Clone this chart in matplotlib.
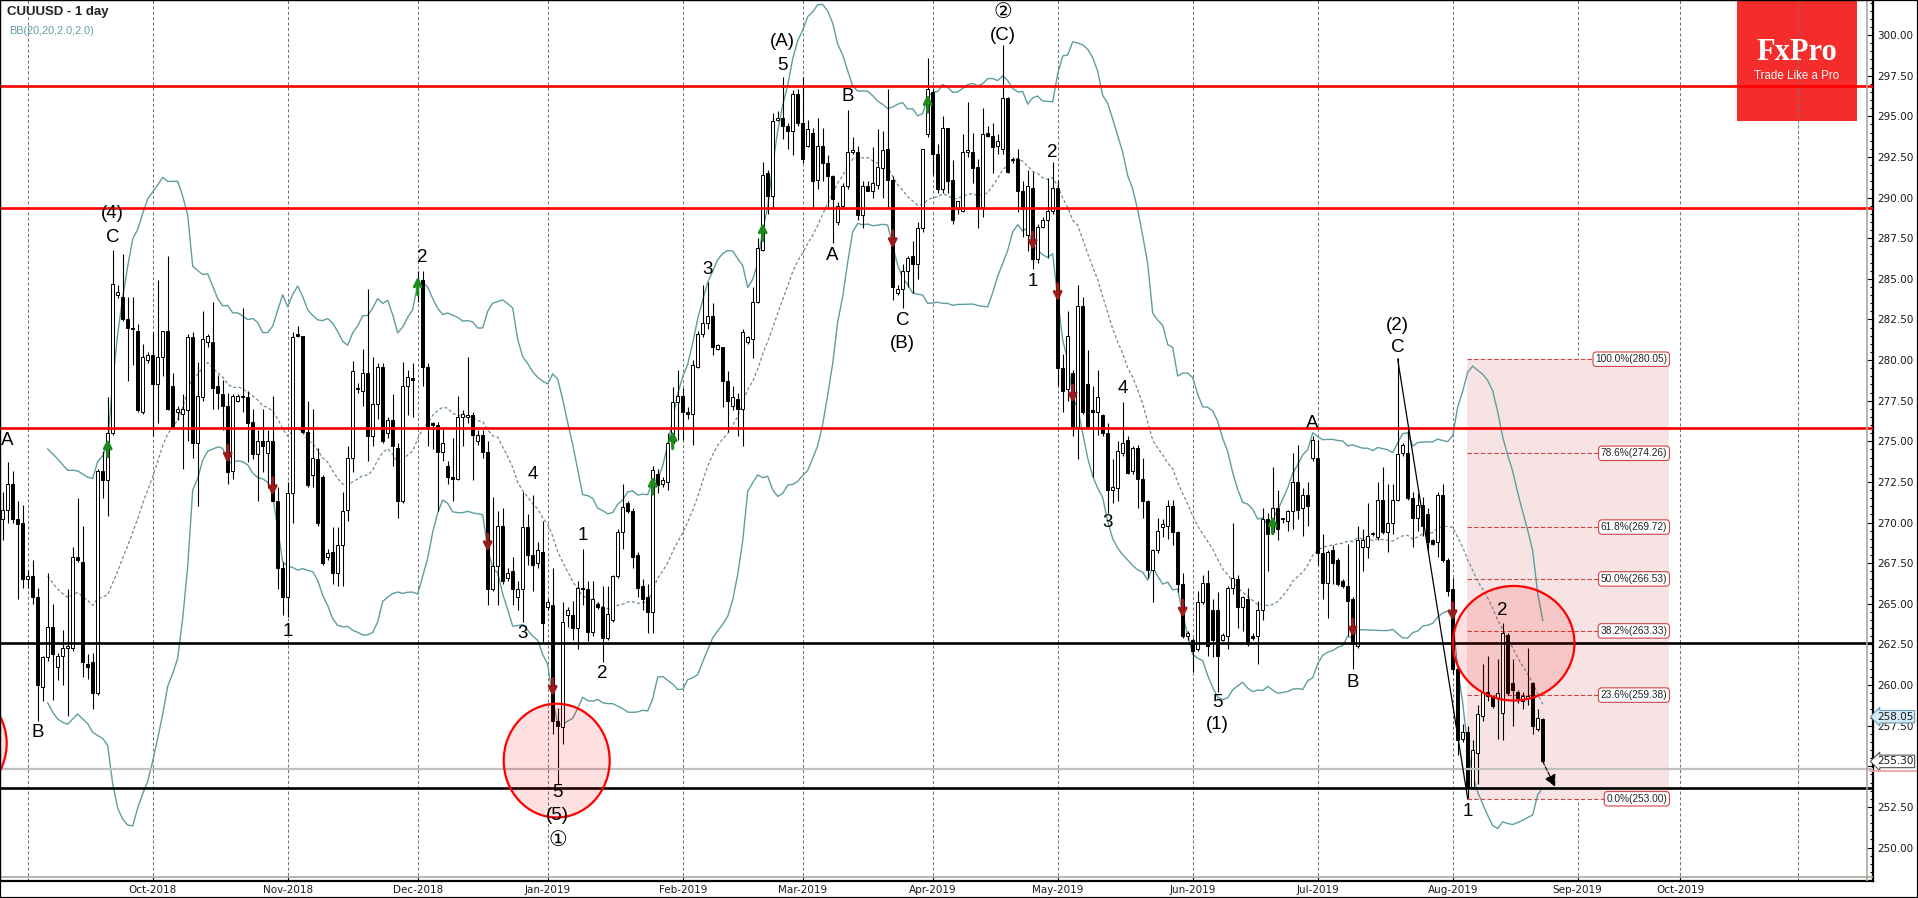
import numpy as np
import pandas as pd
import matplotlib
matplotlib.use("Agg")
import matplotlib.pyplot as plt
from matplotlib.patches import Rectangle, Ellipse
from matplotlib.lines import Line2D

plt.rcParams['font.family'] = ['DejaVu Sans']

# daily candles, one per bar (Sunday bars included)
opens = [
    270.2, 270.75, 272.4, 270.2, 270.0, 266.5, 266.7, 265.4, 259.9, 261.7,
    263.6, 261.1, 261.8, 262.3, 262.3, 267.9, 267.6, 261.3, 261.4, 259.5,
    273.2, 272.6, 275.5, 284.0, 283.9, 282.5, 282.0, 281.8, 276.8, 280.0,
    280.3, 278.5, 280.2, 281.8, 278.4, 276.8, 276.7, 276.9, 281.4, 274.9,
    277.7, 281.1, 281.1, 278.4, 277.9, 277.2, 273.2, 277.5, 277.8, 277.7,
    276.2, 274.2, 275.0, 274.3, 275.0, 271.3, 267.2, 265.4, 271.8, 281.6,
    281.5, 275.6, 272.9, 273.9, 272.8, 267.9, 268.2, 266.9, 268.6, 270.8,
    274.0, 278.3, 278.1, 279.2, 275.3, 277.3, 279.6, 275.5, 276.3, 274.6,
    271.3, 278.4, 278.9, 284.9, 284.9, 279.6, 276.1, 276.0, 274.35, 273.5,
    272.8, 272.7, 276.5, 276.5, 276.6, 275.0, 275.4, 274.35, 265.9, 267.3,
    269.8, 266.6, 267.0, 265.4, 265.9, 269.7, 268.0, 267.5, 268.2, 264.8,
    264.9, 257.8, 257.4, 264.3, 264.3, 263.5, 266.0, 265.9, 263.25, 265.0,
    264.8, 262.9, 264.0, 266.7, 269.4, 271.2, 270.7, 268.0, 266.1, 265.4,
    264.5, 273.0, 272.4, 272.5, 274.9, 277.4, 277.8, 276.8, 276.7, 279.6,
    281.6, 282.3, 282.7, 280.7, 280.8, 278.7, 277.2, 277.6, 277.0, 281.1,
    281.3, 283.6, 286.8, 291.5, 290.1, 294.8, 294.9, 294.4, 294.1, 296.4,
    294.6, 293.2, 294.0, 291.1, 293.2, 292.1, 291.3, 288.5, 289.5, 290.7,
    292.8, 292.8, 288.9, 290.7, 290.4, 290.8, 291.8, 293.0, 291.1, 284.1,
    284.4, 285.5, 286.4, 285.9, 288.1, 293.9, 296.5, 292.7, 290.5, 294.3,
    291.1, 289.3, 289.2, 292.8, 292.8, 291.9, 289.4, 294.0, 293.8, 293.2,
    293.0, 296.1, 292.3, 292.4, 290.4, 287.7, 290.6, 286.2, 288.2, 288.6,
    289.2, 290.6, 279.5, 278.2, 279.2, 275.9, 283.3, 278.5, 276.9, 276.8,
    276.6, 275.5, 272.0, 272.1, 274.3, 275.1, 273.2, 274.6, 272.7, 271.3,
    267.1, 268.3, 269.7, 269.8, 271.0, 269.4, 266.2, 263.0, 262.8, 262.2,
    265.1, 266.3, 264.6, 264.6, 262.8, 263.0, 266.0, 266.5, 264.8, 265.3,
    263.0, 263.0, 264.6, 270.2, 269.4, 270.9, 270.2, 270.1, 270.7, 272.5,
    270.9, 271.7, 274.0, 274.0, 268.1, 266.3, 268.3, 267.7, 266.4, 266.1,
    265.3, 262.4, 268.5, 268.5, 269.3, 269.1, 271.4, 269.4, 270.0, 271.4,
    274.3, 274.3, 271.5, 270.3, 271.1, 270.5, 268.9, 268.8, 271.7, 267.7,
    265.9, 261.0, 256.7, 257.1, 253.7, 255.8, 258.1, 259.6, 259.3, 259.2,
    258.3, 263.1, 260.1, 259.6, 259.0, 259.2, 260.1, 257.3, 257.9,
]
highs = [
    271.9, 273.7, 273.2, 271.3, 271.1, 267.1, 267.7, 266.0, 261.8, 266.9,
    265.0, 262.0, 263.4, 265.9, 268.5, 271.5, 269.8, 261.9, 262.0, 273.3,
    274.4, 277.7, 286.8, 284.6, 286.5, 283.9, 283.9, 282.2, 281.0, 280.5,
    281.7, 284.9, 281.8, 286.4, 279.2, 277.2, 277.9, 281.6, 281.7, 279.9,
    283.0, 281.6, 283.6, 279.1, 278.8, 278.0, 277.9, 277.9, 283.2, 278.1,
    277.0, 275.7, 277.0, 275.7, 277.8, 272.2, 267.6, 272.5, 281.7, 282.1,
    281.5, 277.5, 277.0, 274.6, 272.9, 268.4, 269.7, 269.7, 271.9, 274.7,
    279.95, 278.6, 280.7, 284.35, 280.2, 279.8, 279.8, 276.5, 277.9, 274.9,
    279.9, 279.4, 279.8, 285.45, 285.45, 279.8, 276.2, 276.2, 275.8, 273.8,
    275.2, 277.8, 276.9, 280.2, 276.8, 275.7, 275.7, 275.0, 271.6, 270.7,
    270.9, 267.2, 267.9, 266.4, 271.9, 270.5, 271.7, 268.8, 270.1, 265.3,
    267.2, 258.6, 265.1, 264.8, 265.2, 266.4, 268.4, 266.4, 266.4, 265.1,
    266.1, 266.1, 266.8, 269.6, 272.4, 271.3, 270.9, 268.2, 266.5, 266.2,
    273.5, 273.3, 272.8, 275.5, 278.36, 279.4, 278.3, 277.1, 280.0, 281.8,
    284.6, 284.8, 283.5, 281.0, 280.8, 279.3, 278.4, 278.0, 281.9, 281.5,
    284.5, 287.5, 292.2, 291.7, 295.2, 295.3, 297.4, 294.6, 296.6, 296.7,
    297.4, 294.8, 294.3, 294.9, 294.3, 292.6, 291.4, 289.7, 290.9, 295.4,
    293.7, 293.2, 291.0, 291.0, 293.1, 294.2, 294.1, 296.7, 291.3, 284.6,
    285.9, 286.4, 287.3, 288.5, 293.0, 298.6, 296.7, 293.3, 295.0, 294.3,
    292.3, 289.8, 293.9, 295.9, 294.0, 292.4, 295.5, 294.4, 294.6, 293.9,
    299.4, 296.2, 292.5, 293.0, 291.0, 291.7, 291.6, 288.4, 288.8, 291.2,
    292.2, 291.1, 280.4, 283.0, 279.4, 284.6, 283.9, 280.6, 278.4, 279.4,
    276.7, 276.1, 273.9, 275.0, 277.4, 275.3, 274.7, 274.8, 274.0, 271.4,
    268.4, 270.3, 270.2, 271.4, 271.4, 269.5, 266.9, 263.3, 262.9, 265.8,
    266.8, 267.1, 265.3, 265.7, 263.2, 266.1, 270.0, 266.8, 265.5, 266.0,
    263.2, 265.2, 270.9, 270.6, 273.4, 272.0, 270.3, 270.8, 274.3, 274.8,
    272.1, 272.5, 275.3, 275.1, 269.3, 268.3, 268.6, 267.8, 266.5, 268.7,
    265.4, 269.8, 269.6, 271.2, 269.4, 272.5, 273.4, 272.4, 272.4, 280.1,
    274.9, 275.9, 271.9, 271.8, 271.6, 270.9, 269.0, 271.9, 272.4, 267.8,
    266.6, 261.1, 257.6, 257.5, 256.6, 258.8, 261.3, 261.8, 259.4, 261.6,
    263.8, 263.2, 261.6, 259.7, 259.6, 262.3, 260.2, 258.5, 258.0,
]
lows = [
    268.9, 270.0, 270.0, 265.3, 266.0, 266.0, 265.0, 257.8, 259.0, 261.5,
    259.1, 260.3, 260.0, 258.1, 262.1, 267.6, 260.5, 260.4, 258.5, 259.4,
    271.5, 270.4, 275.4, 283.8, 282.4, 278.7, 279.7, 276.8, 276.7, 279.8,
    275.3, 276.1, 279.0, 276.9, 275.9, 276.3, 273.3, 275.0, 274.0, 271.0,
    277.5, 280.8, 277.0, 277.0, 275.7, 272.4, 272.7, 277.4, 276.8, 273.7,
    273.9, 271.3, 273.1, 272.1, 271.3, 265.9, 264.3, 264.2, 270.0, 281.4,
    275.5, 272.2, 272.2, 269.8, 267.4, 267.7, 266.2, 266.1, 266.1, 270.1,
    273.1, 278.0, 277.2, 273.8, 274.7, 276.4, 274.9, 275.2, 273.5, 270.3,
    271.2, 276.6, 276.5, 283.6, 278.4, 274.7, 274.5, 270.7, 273.8, 272.4,
    271.3, 272.6, 274.7, 276.1, 272.6, 274.8, 274.0, 264.9, 265.8, 264.9,
    266.2, 266.4, 264.9, 264.6, 263.9, 267.4, 265.8, 267.2, 262.6, 264.6,
    257.0, 253.9, 256.4, 263.6, 262.8, 262.2, 264.9, 262.7, 263.0, 264.7,
    261.4, 262.8, 263.9, 266.6, 268.4, 270.6, 267.2, 265.4, 264.6, 263.2,
    263.2, 271.8, 272.2, 272.0, 274.7, 275.1, 275.1, 276.4, 274.8, 279.5,
    281.4, 281.9, 280.3, 280.6, 277.1, 275.6, 276.9, 275.3, 274.7, 281.0,
    280.1, 283.5, 286.7, 289.0, 289.4, 294.7, 293.6, 293.0, 292.6, 294.4,
    292.1, 293.1, 289.4, 290.5, 291.0, 289.4, 287.2, 288.3, 289.3, 290.5,
    292.7, 288.6, 288.1, 290.4, 290.0, 290.5, 290.0, 289.4, 283.7, 284.0,
    283.2, 284.5, 284.1, 285.0, 287.9, 293.7, 291.4, 290.3, 290.3, 290.3,
    288.4, 289.0, 289.1, 292.5, 290.9, 288.1, 288.8, 293.7, 291.5, 292.7,
    292.7, 291.5, 292.1, 289.1, 287.6, 286.7, 285.6, 286.0, 288.1, 286.3,
    289.0, 278.4, 276.8, 277.5, 275.3, 273.9, 276.7, 275.9, 272.8, 275.4,
    275.3, 270.6, 271.2, 271.3, 274.1, 273.0, 273.0, 270.9, 270.3, 266.6,
    265.1, 268.1, 269.1, 269.0, 268.6, 265.7, 262.9, 262.8, 260.8, 262.1,
    265.0, 261.8, 261.7, 259.6, 262.7, 262.2, 265.6, 263.5, 263.3, 262.4,
    262.8, 261.3, 264.0, 267.0, 269.3, 268.9, 270.0, 269.5, 269.6, 270.2,
    269.2, 269.8, 273.8, 267.4, 265.3, 264.1, 266.2, 266.1, 266.0, 263.0,
    261.0, 262.3, 267.0, 267.8, 269.2, 268.9, 269.3, 268.2, 269.3, 271.3,
    274.1, 271.4, 268.5, 269.5, 269.2, 268.2, 268.6, 267.9, 267.6, 265.5,
    260.7, 255.7, 256.5, 253.05, 253.6, 253.9, 257.8, 259.0, 258.6, 256.7,
    256.6, 259.4, 257.5, 258.9, 258.5, 258.8, 257.0, 257.2, 255.2,
]
closes = [
    270.75, 272.4, 270.2, 269.9, 266.5, 266.7, 265.4, 260.0, 261.7, 263.6,
    261.9, 261.8, 262.3, 262.4, 267.9, 267.7, 261.4, 261.1, 259.5, 273.2,
    272.6, 275.5, 284.7, 284.2, 282.5, 281.95, 281.9, 276.9, 280.2, 280.3,
    278.5, 280.2, 281.8, 277.0, 275.9, 277.0, 277.0, 281.4, 274.9, 277.8,
    281.3, 281.5, 278.3, 278.0, 277.2, 273.1, 277.8, 277.8, 277.7, 276.1,
    274.2, 275.0, 274.7, 275.0, 271.3, 267.2, 265.4, 271.8, 281.4, 281.5,
    275.6, 272.3, 274.0, 270.0, 267.5, 268.1, 266.9, 268.6, 270.7, 274.0,
    279.3, 278.2, 279.2, 275.3, 277.3, 279.6, 275.0, 276.3, 274.7, 271.3,
    278.4, 278.95, 278.8, 284.8, 279.6, 275.9, 276.0, 274.35, 274.9, 272.8,
    272.7, 276.5, 276.7, 276.6, 275.4, 275.4, 274.35, 265.9, 267.3, 269.8,
    266.4, 266.9, 265.9, 265.9, 269.7, 268.0, 267.4, 268.3, 263.8, 265.1,
    257.8, 257.5, 263.9, 264.6, 263.5, 266.0, 265.9, 263.25, 265.3, 264.8,
    262.9, 264.35, 266.7, 269.4, 270.95, 270.7, 267.9, 266.0, 265.3, 264.5,
    273.25, 272.3, 272.6, 274.9, 277.4, 277.8, 276.8, 276.7, 279.7, 281.6,
    282.3, 282.7, 280.8, 280.9, 278.7, 277.5, 277.7, 277.0, 281.7, 281.4,
    283.6, 286.9, 291.4, 290.1, 294.7, 294.9, 294.4, 294.1, 296.4, 294.6,
    292.4, 294.2, 291.0, 293.2, 292.1, 291.3, 289.9, 289.5, 290.7, 292.8,
    292.9, 288.9, 290.7, 290.4, 290.9, 291.9, 292.9, 291.1, 284.5, 284.4,
    285.5, 286.3, 285.9, 288.1, 293.0, 296.7, 292.7, 290.5, 294.3, 291.0,
    288.6, 289.8, 292.8, 292.9, 291.8, 289.4, 293.9, 293.8, 293.1, 293.5,
    296.1, 291.6, 292.4, 290.4, 289.3, 290.7, 286.2, 288.2, 288.6, 289.2,
    290.6, 279.5, 278.1, 281.5, 275.9, 283.3, 276.8, 275.9, 276.8, 277.7,
    275.5, 272.0, 272.2, 274.4, 274.9, 273.05, 274.6, 272.7, 271.3, 267.1,
    268.3, 269.5, 269.9, 271.0, 269.4, 266.2, 263.0, 263.2, 262.1, 265.1,
    266.3, 262.4, 262.8, 261.8, 263.1, 266.0, 266.6, 264.8, 265.4, 262.5,
    262.9, 264.6, 270.2, 269.3, 270.9, 269.6, 270.2, 270.7, 272.5, 270.8,
    271.7, 271.0, 275.1, 268.1, 266.3, 268.2, 267.5, 266.2, 266.1, 265.2,
    262.5, 268.9, 268.9, 269.2, 269.3, 271.4, 269.4, 270.0, 271.4, 274.2,
    274.75, 271.5, 270.3, 271.1, 269.8, 268.8, 268.7, 271.7, 267.7, 265.8,
    261.0, 256.6, 257.1, 253.7, 256.0, 258.2, 259.6, 259.3, 258.7, 259.5,
    263.2, 259.5, 259.7, 259.2, 259.3, 259.3, 257.5, 258.0, 255.3,
]

month_pos = [30, 57, 83, 109, 136, 160, 186, 211, 238, 263, 290, 315, 335.5]
month_labels = ['Oct-2018', 'Nov-2018', 'Dec-2018', 'Jan-2019', 'Feb-2019', 'Mar-2019',
                'Apr-2019', 'May-2019', 'Jun-2019', 'Jul-2019', 'Aug-2019', 'Sep-2019', 'Oct-2019']
grid_pos = [5] + month_pos + [359]

red_levels = [296.84, 289.33, 275.8]
black_levels = [262.57, 253.64]
grey_level = 254.81

fib_names = ['100.0', '78.6', '61.8', '50.0', '38.2', '23.6', '0.0']
fib_values = [280.05, 274.26, 269.72, 266.53, 263.33, 259.38, 253.00]

wave_text = ['A', '(4)', 'C', 'B', '1', '2', '4', '3', '5', '(5)', '\u2460', '1', '2',
             '3', '(A)', '5', 'A', 'B', 'C', '(B)', '\u2461', '(C)', '1', '2', '3', '4',
             '5', '(1)', 'A', 'B', '(2)', 'C', '1', '2']
wave_bar = [0.9, 22, 22, 7, 57, 84, 106, 104, 111, 111, 111, 116, 120,
            141, 156, 156, 166, 169, 180, 180, 200, 200, 206, 210, 221, 224,
            243, 243, 262, 270, 279, 279, 293, 300]
wave_price = [275.03, 289.0, 287.56, 257.1, 263.27, 286.33, 272.97, 263.15, 253.38, 252.0, 250.46, 269.19, 260.73,
              285.54, 299.59, 298.15, 286.46, 296.2, 282.46, 281.03, 301.4, 300.0, 284.85, 292.76, 269.98, 278.25,
              258.94, 257.6, 276.1, 260.13, 282.1, 280.8, 252.2, 264.6]

up_bar = [21, 83, 130, 134, 152, 185, 254]
up_price = [274.6, 284.57, 272.3, 275.1, 287.9, 295.8, 269.86]
down_bar = [45, 54, 97, 110, 178, 206, 211, 214, 236, 270, 290]
down_price = [274.2, 272.2, 268.75, 259.85, 287.4, 287.3, 284.15, 277.9, 264.67, 263.5, 264.5]

W, H = 1918, 898
fig = plt.figure(figsize=(W / 100, H / 100), dpi=100)
ax = fig.add_axes([0, 17 / H, 1873 / W, 881 / H])
ax.set_xlim(-0.54, 374.06)
ax.set_ylim(247.94, 302.154)
ax.set_facecolor('white')

x = np.arange(len(closes))
o = np.array(opens)
h = np.array(highs)
l = np.array(lows)
c = np.array(closes)

# month grid
for gx in grid_pos:
    ax.axvline(gx, color='#777777', lw=0.75, dashes=(3, 2.2), zorder=1)

# logo
ax.add_patch(Rectangle((1736.7 / W, 1 - 120.7 / H), 120 / W, 120.7 / H, transform=fig.transFigure,
                       fc='#F42C2C', ec='none', zorder=0.5, clip_on=False))
fig.text(1796.7 / W, 1 - 52 / H, 'FxPro', color='white', fontsize=22, fontweight='bold',
         family='Liberation Serif', ha='center', va='center', zorder=0.6)
fig.text(1796.7 / W, 1 - 76 / H, 'Trade Like a Pro', color='white', fontsize=8.3,
         family='Liberation Sans', ha='center', va='center', zorder=0.6)

# fibonacci box
ax.add_patch(Rectangle((292.8, fib_values[-1]), 333.3 - 292.8, fib_values[0] - fib_values[-1],
                       fc='#F7E3E3', ec='none', zorder=1.2))
for name, val in zip(fib_names, fib_values):
    ax.plot([292.8, 333.0], [val, val], color='#C84646', lw=0.8, dashes=(4, 2), zorder=1.3)
    ax.text(332.9, val, f'{name}%({val:.2f})', ha='right', va='center', fontsize=7.3,
            family='Liberation Sans', color='#222222', zorder=8,
            bbox=dict(boxstyle='round,pad=0.22,rounding_size=0.35', fc='white', ec='#D04545', lw=0.8))

# bollinger bands
cs = pd.Series(closes)
mid = cs.rolling(20, min_periods=10).mean()
sd = cs.rolling(20, min_periods=10).std(ddof=0)
ax.plot(x, mid + 2 * sd, color='#5F9EA0', lw=1.0, zorder=2)
ax.plot(x, mid - 2 * sd, color='#5F9EA0', lw=1.0, zorder=2)
ax.plot(x, mid, color='#6E8E90', lw=0.9, dashes=(2.5, 1.8), zorder=2)

# candles
ax.vlines(x, l, h, color='black', lw=0.8, zorder=3)
up = c >= o
lo = np.minimum(o, c)
ht = np.maximum(np.abs(c - o), 0.07)
ax.bar(x[up], ht[up], bottom=lo[up], width=0.55, color='white', edgecolor='black', lw=0.7, zorder=4)
ax.bar(x[~up], ht[~up], bottom=lo[~up], width=0.55, color='black', edgecolor='black', lw=0.7, zorder=4)

# horizontal levels
for lv in red_levels:
    ax.axhline(lv, color='#FF0000', lw=1.9, zorder=5)
for lv in black_levels:
    ax.axhline(lv, color='black', lw=1.9, zorder=5)
ax.axhline(grey_level, color='#C0C0C0', lw=1.6, zorder=5)

# wave C -> 1 line and projection arrow
ax.plot([279, 293], [280.05, 253.0], color='black', lw=0.9, zorder=5)
ax.annotate('', xy=(310.5, 253.74), xytext=(308, 255.3),
            arrowprops=dict(arrowstyle='-|>', color='black', lw=0.8, ls='--', mutation_scale=18,
                            shrinkA=0, shrinkB=0), zorder=6)

# signal arrows
for bx, by in zip(up_bar, up_price):
    ax.annotate('', xy=(bx, by + 0.55), xytext=(bx, by - 0.55),
                arrowprops=dict(arrowstyle='->', color='#1E8B1E', lw=2.2, mutation_scale=12,
                                shrinkA=0, shrinkB=0), zorder=6)
for bx, by in zip(down_bar, down_price):
    ax.annotate('', xy=(bx, by - 0.55), xytext=(bx, by + 0.55),
                arrowprops=dict(arrowstyle='->', color='#9B1B1B', lw=2.2, mutation_scale=12,
                                shrinkA=0, shrinkB=0), zorder=6)

# circles
for cx, cy, w, hh in [(110.8, 255.35, 21.2, 7.0), (302.2, 262.57, 24.3, 7.05), (-10.2, 256.4, 22.0, 7.0)]:
    ax.add_patch(Ellipse((cx, cy), w, hh, fc=(1, 0, 0, 0.12), ec='#FF0000', lw=1.6, zorder=6.5))

# wave labels
for t, bx, by in zip(wave_text, wave_bar, wave_price):
    circled = t in ('\u2460', '\u2461')
    ax.text(bx, by, t, ha='center', va='center', fontsize=15 if circled else 13.5,
            family=['Liberation Sans', 'DejaVu Sans'] if not circled else ['DejaVu Sans'],
            color='black', zorder=7)

# inner grey frame
ax.axvline(372.86, color='#A8A89C', lw=1.2, zorder=8)
ax.axhline(248.18, color='#A8A89C', lw=1.2, zorder=8)

# axes styling
for sp in ax.spines.values():
    sp.set_color('black')
    sp.set_linewidth(1.6)
ax.yaxis.tick_right()
yt = np.arange(250, 300.01, 2.5)
ax.set_yticks(yt)
ax.set_yticks(np.arange(248, 302.01, 0.5), minor=True)
# 255.00 sits under the last-price tag
ax.set_yticklabels(['' if abs(v - 255) < 0.01 else f'{v:.2f}' for v in yt])
ax.tick_params(axis='y', which='major', direction='in', length=4.5, width=0.8, pad=2.7,
               labelsize=7.5, labelcolor='#1a1a1a')
ax.tick_params(axis='y', which='minor', direction='in', length=2.5, width=0.8)
ax.set_xticks(month_pos)
ax.set_xticklabels(month_labels)
ax.tick_params(axis='x', which='major', direction='in', length=3, width=0.8, pad=3,
               labelsize=7.5, labelcolor='#1a1a1a')

# price tags on the right axis
ytr = ax.get_yaxis_transform()
ax.text(1.0 + 4 / 1873, 258.05, '258.05', transform=ytr, ha='left', va='center', fontsize=7.5,
        color='#1a1a1a', clip_on=False, zorder=10,
        bbox=dict(boxstyle='larrow,pad=0.12', fc='#D4EAF6', ec='#6D9AB5', lw=0.8))
ax.text(1.0 + 4 / 1873, 255.3, '255.30', transform=ytr, ha='left', va='center', fontsize=7.5,
        color='#1a1a1a', clip_on=False, zorder=10,
        bbox=dict(boxstyle='larrow,pad=0.12', fc='white', ec='#555555', lw=0.8))
fig.add_artist(Line2D([1870 / W, 1916 / W], [1 - 770.5 / H, 1 - 770.5 / H], color='#F2A0A0', lw=1.3))

# header texts
fig.text(7 / W, 1 - 12.5 / H, 'CUUUSD - 1 day', fontsize=9.5, fontweight='bold',
         family='Liberation Sans', color='#222222', va='center', ha='left')
fig.text(9.5 / W, 1 - 30.5 / H, 'BB(20,20,2.0,2.0)', fontsize=7.8, family='Liberation Sans',
         color='#5F9EA0', va='center', ha='left')

fig.add_artist(Rectangle((0, 0), 1, 1, transform=fig.transFigure, fill=False, ec='black', lw=1.6))

fig.savefig('out.png', dpi=100, facecolor='white')
